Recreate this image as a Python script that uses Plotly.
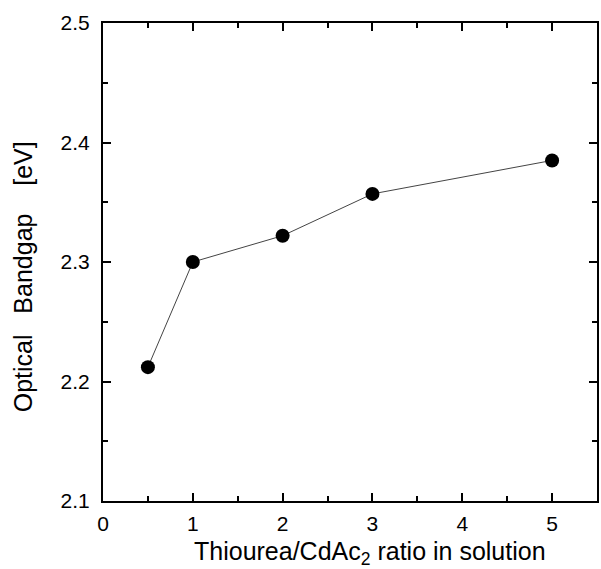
import plotly.graph_objects as go

ratio = [0.5, 1, 2, 3, 5]
bandgap = [2.212, 2.300, 2.322, 2.357, 2.385]

x_ticks = [0, 1, 2, 3, 4, 5]
y_ticks = [2.1, 2.2, 2.3, 2.4, 2.5]

x_title = "Thiourea/CdAc<sub>2</sub> ratio in solution"
y_title = "Optical\u00a0\u00a0\u00a0Bandgap\u00a0\u00a0\u00a0\u00a0[eV]"

fig = go.Figure()
fig.add_trace(go.Scatter(
    x=ratio, y=bandgap, mode="lines+markers",
    line=dict(color="#444444", width=1),
    marker=dict(color="black", size=14, symbol="circle"),
    showlegend=False,
))

font = "Liberation Sans, Arial, sans-serif"
axis_common = dict(
    showgrid=False, zeroline=False, showline=True, linecolor="black", linewidth=2,
    mirror="ticks", ticks="inside", ticklen=8, tickwidth=2, tickcolor="black",
    tickfont=dict(family=font, size=21, color="black"),
)
fig.update_xaxes(
    range=[0, 5.5], tickvals=x_ticks, ticktext=[str(v) for v in x_ticks],
    minor=dict(tickvals=[0.5, 1.5, 2.5, 3.5, 4.5], ticks="inside", ticklen=5, tickwidth=1.5, tickcolor="black"),
    ticklabelstandoff=3,
    **axis_common,
)
fig.update_yaxes(
    range=[2.1, 2.5], tickvals=y_ticks, ticktext=[f"{v:.1f}" for v in y_ticks],
    minor=dict(tickvals=[2.15, 2.25, 2.35, 2.45], ticks="inside", ticklen=5, tickwidth=1.5, tickcolor="black"),
    ticklabelstandoff=7,
    **axis_common,
)
fig.add_annotation(
    text=x_title, xref="paper", yref="paper", x=0.54, y=-0.108,
    xanchor="center", yanchor="middle", showarrow=False,
    font=dict(family=font, size=25, color="black"),
)
fig.add_annotation(
    text=y_title, xref="paper", yref="paper", x=-0.163, y=0.469,
    xanchor="center", yanchor="middle", showarrow=False, textangle=-90,
    font=dict(family=font, size=25, color="black"),
)
fig.update_layout(
    width=601, height=569,
    margin=dict(l=103, r=2, t=23, b=68),
    plot_bgcolor="white", paper_bgcolor="white",
)
fig.write_html("out.html")
